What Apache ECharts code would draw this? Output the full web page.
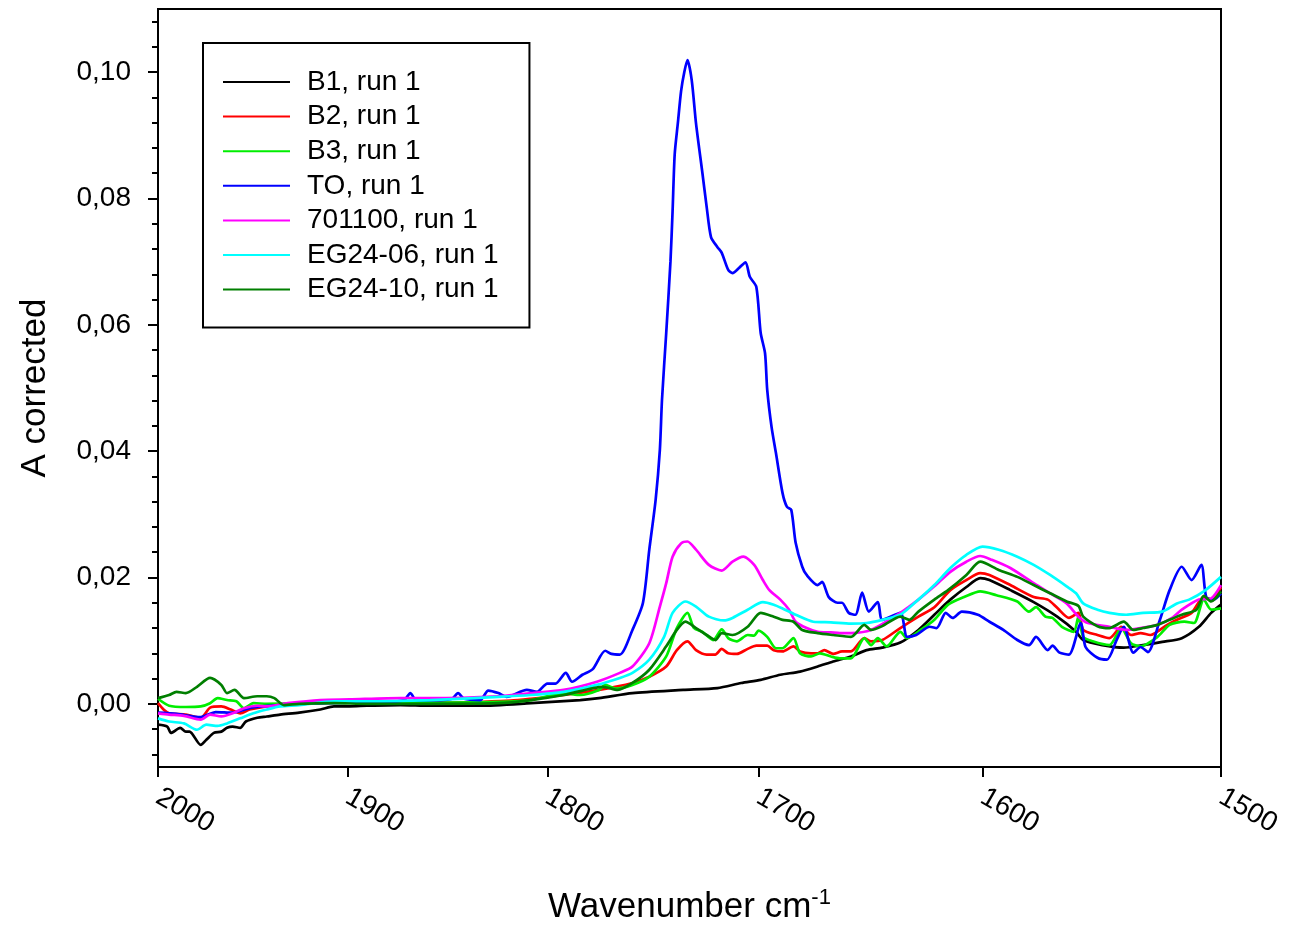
<!DOCTYPE html>
<html><head><meta charset="utf-8">
<script src="https://cdn.jsdelivr.net/npm/echarts@6/dist/echarts.min.js"></script>
<style>html,body{margin:0;padding:0;background:#fff}#c{width:1293px;height:926px}</style>
</head><body><div id="c"></div><script>
const seriesNames = ['B1, run 1','B2, run 1','B3, run 1','TO, run 1','701100, run 1','EG24-06, run 1','EG24-10, run 1'];
const seriesColors = ['#000000','#ff0000','#00ee00','#0000ff','#ff00ff','#00ffff','#007f00'];
const xTickValues = [2000,1900,1800,1700,1600,1500];
const yTickValues = [0,0.02,0.04,0.06,0.08,0.10];
const yMinorTickValues = [-0.008,-0.004,0.004,0.008,0.012,0.016,0.024,0.028,0.032,0.036,0.044,0.048,0.052,0.056,0.064,0.068,0.072,0.076,0.084,0.088,0.092,0.096,0.104,0.108];

// [wavenumber, A corrected]
const B1 = [[2000,-0.0033],[1995,-0.0036],[1993,-0.0046],[1988,-0.0038],[1985,-0.0044],[1983,-0.0044],[1977,-0.0065],[1974,-0.0057],[1970,-0.0046],[1966,-0.0044],[1963,-0.0038],[1960,-0.0036],[1956,-0.0038],[1953,-0.0028],[1947,-0.0022],[1942,-0.0020],[1935,-0.0017],[1925,-0.0014],[1914,-0.0009],[1907,-0.0004],[1899,-0.0004],[1890,-0.0003],[1873,-0.0002],[1858,-0.0003],[1833,-0.0003],[1808,0.0001],[1784,0.0006],[1775,0.0009],[1759,0.0017],[1735,0.0022],[1719,0.0025],[1708,0.0033],[1699,0.0038],[1690,0.0046],[1681,0.0051],[1673,0.0059],[1666,0.0067],[1658,0.0075],[1651,0.0085],[1644,0.0089],[1636,0.0097],[1628,0.0117],[1621,0.0141],[1614,0.0165],[1607,0.0185],[1601,0.0199],[1597,0.0196],[1588,0.0180],[1578,0.0161],[1568,0.0138],[1560,0.0114],[1557,0.0101],[1549,0.0093],[1540,0.0089],[1532,0.0093],[1524,0.0098],[1516,0.0104],[1509,0.0122],[1504,0.0144],[1500,0.0157]];

const B2 = [[2000,0.0001],[1997,-0.0009],[1994,-0.0015],[1985,-0.0017],[1977,-0.0022],[1972,-0.0006],[1966,-0.0004],[1961,-0.0009],[1956,-0.0015],[1951,-0.0009],[1942,-0.0004],[1925,0.0001],[1899,0.0003],[1873,0.0003],[1848,0.0002],[1818,0.0005],[1808,0.0008],[1792,0.0014],[1775,0.0022],[1759,0.0033],[1751,0.0043],[1743,0.0059],[1738,0.0085],[1733,0.0099],[1729,0.0085],[1724,0.0078],[1720,0.0078],[1717,0.0087],[1714,0.0080],[1710,0.0079],[1705,0.0087],[1701,0.0092],[1696,0.0092],[1693,0.0085],[1689,0.0083],[1684,0.0091],[1681,0.0083],[1676,0.0080],[1673,0.0080],[1670,0.0085],[1666,0.0079],[1662,0.0083],[1658,0.0083],[1652,0.0104],[1649,0.0099],[1644,0.0101],[1636,0.0120],[1628,0.0138],[1621,0.0153],[1614,0.0180],[1607,0.0196],[1601,0.0207],[1597,0.0204],[1588,0.0188],[1578,0.0169],[1572,0.0165],[1568,0.0152],[1563,0.0136],[1559,0.0144],[1557,0.0117],[1551,0.0109],[1546,0.0104],[1541,0.0122],[1537,0.0109],[1533,0.0112],[1529,0.0109],[1522,0.0125],[1518,0.0133],[1512,0.0144],[1507,0.0169],[1504,0.0165],[1500,0.0185]];

const B3 = [[2000,0.0008],[1994,-0.0003],[1985,-0.0005],[1977,-0.0004],[1972,0.0001],[1968,0.0009],[1963,0.0006],[1958,0.0004],[1954,-0.0007],[1949,0.0001],[1942,0.0000],[1925,0.0001],[1899,0.0002],[1873,0.0003],[1848,0.0002],[1823,0.0003],[1808,0.0006],[1792,0.0017],[1784,0.0014],[1775,0.0022],[1772,0.0030],[1767,0.0024],[1759,0.0030],[1751,0.0043],[1743,0.0075],[1738,0.0120],[1733,0.0144],[1730,0.0120],[1726,0.0114],[1721,0.0101],[1717,0.0118],[1714,0.0104],[1710,0.0099],[1705,0.0109],[1702,0.0108],[1700,0.0116],[1696,0.0106],[1692,0.0088],[1689,0.0088],[1684,0.0104],[1681,0.0080],[1676,0.0075],[1672,0.0080],[1667,0.0075],[1663,0.0072],[1658,0.0072],[1652,0.0104],[1649,0.0093],[1646,0.0104],[1642,0.0091],[1636,0.0114],[1633,0.0104],[1627,0.0117],[1621,0.0133],[1615,0.0157],[1608,0.0169],[1601,0.0178],[1594,0.0172],[1585,0.0162],[1580,0.0146],[1577,0.0153],[1573,0.0138],[1570,0.0136],[1566,0.0122],[1561,0.0114],[1559,0.0138],[1557,0.0106],[1553,0.0099],[1546,0.0093],[1541,0.0120],[1537,0.0096],[1533,0.0091],[1526,0.0106],[1521,0.0125],[1515,0.0130],[1511,0.0128],[1507,0.0165],[1504,0.0149],[1500,0.0151]];

const TO = [[2000,-0.0014],[1990,-0.0016],[1977,-0.0021],[1969,-0.0013],[1960,-0.0014],[1950,-0.0006],[1940,-0.0003],[1925,0.0000],[1900,0.0002],[1878,0.0003],[1871,0.0006],[1868,0.0017],[1865,0.0006],[1853,0.0006],[1847,0.0008],[1844,0.0017],[1841,0.0008],[1833,0.0006],[1829,0.0021],[1824,0.0017],[1820,0.0011],[1810,0.0022],[1805,0.0019],[1800,0.0032],[1796,0.0032],[1791,0.0049],[1788,0.0035],[1783,0.0046],[1778,0.0055],[1772,0.0084],[1769,0.0079],[1765,0.0078],[1759,0.0117],[1754,0.0160],[1751,0.0244],[1748,0.0323],[1746,0.0402],[1745,0.0481],[1743,0.0587],[1741,0.0700],[1740,0.0780],[1739,0.0870],[1737.5,0.0920],[1736,0.0970],[1734.5,0.1000],[1733,0.1019],[1731,0.0987],[1729,0.0919],[1726,0.0840],[1724,0.0786],[1722,0.0739],[1719,0.0723],[1717,0.0714],[1714,0.0687],[1712,0.0682],[1709,0.0690],[1706,0.0699],[1704,0.0676],[1701,0.0660],[1699,0.0587],[1697,0.0555],[1696,0.0497],[1694,0.0438],[1692,0.0397],[1689,0.0334],[1687,0.0312],[1685,0.0307],[1683,0.0255],[1680,0.0217],[1678,0.0204],[1673,0.0188],[1671,0.0193],[1668,0.0169],[1664,0.0160],[1662,0.0160],[1659,0.0144],[1656,0.0141],[1653,0.0176],[1650,0.0146],[1646,0.0161],[1644,0.0133],[1636,0.0144],[1633,0.0106],[1629,0.0109],[1623,0.0122],[1620,0.0120],[1616,0.0144],[1613,0.0136],[1609,0.0146],[1602,0.0141],[1597,0.0130],[1591,0.0117],[1585,0.0101],[1580,0.0093],[1577,0.0106],[1572,0.0085],[1570,0.0092],[1567,0.0081],[1563,0.0078],[1558,0.0128],[1556,0.0090],[1551,0.0073],[1547,0.0070],[1543,0.0101],[1540,0.0122],[1536,0.0081],[1533,0.0090],[1530,0.0082],[1525,0.0133],[1521,0.0180],[1516,0.0217],[1512,0.0196],[1508,0.0220],[1506,0.0169],[1503,0.0165],[1500,0.0175]];

const S701100 = [[2000,-0.0015],[1994,-0.0017],[1986,-0.0019],[1977,-0.0025],[1972,-0.0017],[1966,-0.0020],[1960,-0.0015],[1954,-0.0007],[1947,-0.0003],[1942,-0.0004],[1931,0.0001],[1914,0.0006],[1899,0.0007],[1873,0.0009],[1858,0.0009],[1824,0.0012],[1808,0.0017],[1792,0.0022],[1776,0.0035],[1765,0.0049],[1759,0.0059],[1751,0.0096],[1746,0.0154],[1743,0.0191],[1740,0.0233],[1736,0.0254],[1733,0.0257],[1729,0.0244],[1723,0.0220],[1717,0.0211],[1712,0.0225],[1707,0.0233],[1702,0.0220],[1698,0.0196],[1695,0.0180],[1690,0.0165],[1686,0.0149],[1683,0.0130],[1678,0.0120],[1673,0.0114],[1667,0.0113],[1663,0.0112],[1658,0.0112],[1649,0.0117],[1636,0.0144],[1628,0.0165],[1621,0.0186],[1614,0.0209],[1607,0.0225],[1601,0.0234],[1596,0.0228],[1588,0.0215],[1578,0.0191],[1571,0.0175],[1564,0.0159],[1559,0.0138],[1555,0.0128],[1546,0.0122],[1539,0.0117],[1533,0.0120],[1526,0.0125],[1520,0.0136],[1516,0.0149],[1509,0.0165],[1504,0.0167],[1500,0.0188]];

const EG2406 = [[2000,-0.0023],[1994,-0.0028],[1986,-0.0031],[1979,-0.0041],[1974,-0.0033],[1968,-0.0035],[1963,-0.0031],[1956,-0.0023],[1949,-0.0015],[1942,-0.0009],[1935,-0.0004],[1925,-0.0002],[1907,0.0004],[1890,0.0004],[1858,0.0006],[1824,0.0011],[1808,0.0014],[1792,0.0019],[1776,0.0030],[1765,0.0041],[1759,0.0049],[1751,0.0070],[1744,0.0106],[1740,0.0144],[1734,0.0162],[1729,0.0154],[1723,0.0138],[1716,0.0132],[1712,0.0136],[1705,0.0149],[1698,0.0161],[1693,0.0157],[1689,0.0151],[1683,0.0141],[1675,0.0130],[1667,0.0129],[1658,0.0127],[1651,0.0128],[1644,0.0133],[1636,0.0141],[1628,0.0165],[1621,0.0188],[1614,0.0215],[1607,0.0236],[1600,0.0249],[1593,0.0244],[1585,0.0233],[1578,0.0220],[1571,0.0204],[1564,0.0186],[1560,0.0175],[1557,0.0159],[1551,0.0149],[1546,0.0144],[1539,0.0141],[1532,0.0144],[1524,0.0146],[1518,0.0159],[1513,0.0165],[1507,0.0178],[1500,0.0201]];

const EG2410 = [[2000,0.0009],[1994,0.0014],[1990,0.0019],[1985,0.0017],[1979,0.0027],[1972,0.0041],[1966,0.0030],[1963,0.0017],[1959,0.0022],[1954,0.0009],[1947,0.0012],[1942,0.0012],[1938,0.0009],[1933,-0.0002],[1925,0.0000],[1907,0.0001],[1890,0.0000],[1858,0.0000],[1824,0.0001],[1808,0.0006],[1792,0.0014],[1773,0.0027],[1766,0.0022],[1759,0.0033],[1751,0.0054],[1743,0.0091],[1738,0.0117],[1734,0.0130],[1729,0.0120],[1724,0.0109],[1720,0.0101],[1717,0.0112],[1712,0.0109],[1705,0.0122],[1699,0.0144],[1693,0.0138],[1689,0.0133],[1684,0.0130],[1680,0.0117],[1673,0.0112],[1666,0.0109],[1658,0.0106],[1652,0.0125],[1649,0.0117],[1644,0.0123],[1636,0.0138],[1632,0.0133],[1628,0.0146],[1621,0.0165],[1615,0.0180],[1607,0.0204],[1601,0.0225],[1593,0.0212],[1585,0.0201],[1578,0.0188],[1571,0.0175],[1564,0.0162],[1559,0.0155],[1557,0.0138],[1551,0.0123],[1546,0.0120],[1540,0.0130],[1536,0.0117],[1532,0.0120],[1526,0.0125],[1521,0.0133],[1516,0.0141],[1510,0.0149],[1507,0.0171],[1504,0.0162],[1500,0.0178]];

const allData = [B1, B2, B3, TO, S701100, EG2406, EG2410];

const FONT = 'Liberation Sans, Arial, sans-serif';
const chart = echarts.init(document.getElementById('c'), null, {renderer: 'canvas'});
chart.setOption({
  animation: false,
  backgroundColor: '#ffffff',
  grid: {left: 158, top: 9, right: 72, bottom: 159, show: true, borderColor: '#000', borderWidth: 2, backgroundColor: 'transparent', containLabel: false, outerBoundsMode: 'none'},
  legend: {
    orient: 'vertical', left: 203, top: 43,
    padding: [24, 31, 23, 20],
    borderColor: '#000', borderWidth: 2, backgroundColor: '#fff',
    itemWidth: 67, itemHeight: 2, itemGap: 4.6, icon: 'rect',
    textStyle: {fontFamily: FONT, fontSize: 28, color: '#000', lineHeight: 30, padding: [0, 0, 0, 12]},
    data: seriesNames
  },
  xAxis: {
    type: 'log', logBase: 10, min: 1500, max: 2000, inverse: true,
    name: '{a|Wavenumber cm}{s|-1}', nameLocation: 'middle', nameGap: 120,
    nameTextStyle: {rich: {a: {fontFamily: FONT, fontSize: 35, color: '#000', lineHeight: 40}, s: {fontFamily: FONT, fontSize: 22, color: '#000', lineHeight: 22, verticalAlign: 'top'}}},
    axisLine: {show: true, onZero: false, lineStyle: {color: '#000', width: 2}},
    axisTick: {show: true, inside: false, length: 10, lineStyle: {color: '#000', width: 2}, customValues: xTickValues},
    axisLabel: {show: true, rotate: -30, margin: 28, fontFamily: FONT, fontSize: 28, color: '#000', customValues: xTickValues, formatter: v => String(Math.round(v)), hideOverlap: false},
    splitLine: {show: false}, minorTick: {show: false}
  },
  yAxis: [{
    type: 'value', min: -0.01, max: 0.11,
    name: 'A corrected', nameLocation: 'middle', nameGap: 105, nameRotate: 90,
    nameTextStyle: {fontFamily: FONT, fontSize: 35, color: '#000'},
    axisLine: {show: true, onZero: false, lineStyle: {color: '#000', width: 2}},
    axisTick: {show: true, length: 10, lineStyle: {color: '#000', width: 2}, customValues: yTickValues},
    axisLabel: {show: true, margin: 27, fontFamily: FONT, fontSize: 28, color: '#000', customValues: yTickValues, formatter: v => v.toFixed(2).replace('.', ',')},
    splitLine: {show: false}
  }, {
    type: 'value', min: -0.01, max: 0.11, position: 'left',
    axisLine: {show: false, onZero: false},
    axisTick: {show: true, length: 6, lineStyle: {color: '#000', width: 2}, customValues: yMinorTickValues},
    axisLabel: {show: false, customValues: yMinorTickValues},
    splitLine: {show: false}
  }],
  series: allData.map((d, i) => ({
    name: seriesNames[i], type: 'line', data: d, yAxisIndex: 0,
    showSymbol: false, symbol: 'none', smooth: 0.25,
    color: seriesColors[i],
    lineStyle: {color: seriesColors[i], width: 2.7},
    emphasis: {disabled: true}
  }))
});
</script></body></html>
